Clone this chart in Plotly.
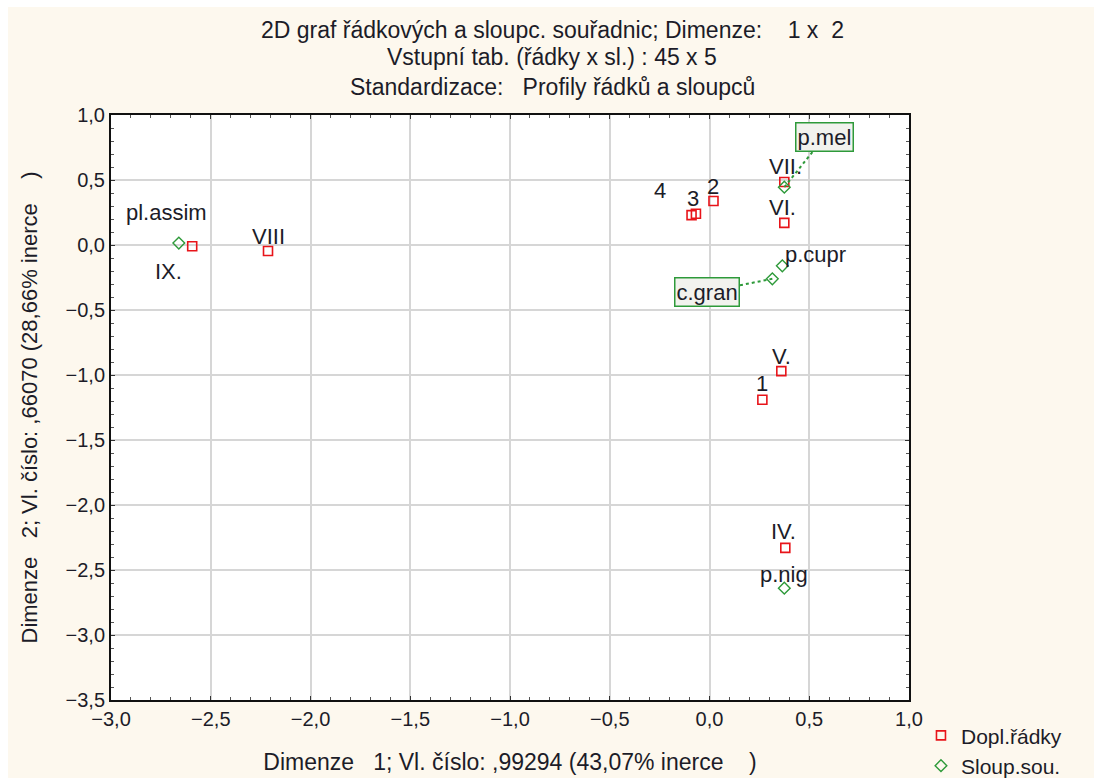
import plotly.graph_objects as go

# ---- data ----
row_labels = ["IX.", "VIII", "4", "3", "2", "VII.", "VI.", "V.", "1", "IV."]
row_x = [-2.593, -2.213, -0.090, -0.068, 0.020, 0.375, 0.375, 0.360, 0.265, 0.380]
row_y = [-0.010, -0.046, 0.230, 0.240, 0.338, 0.485, 0.170, -0.970, -1.190, -2.330]

col_labels = ["pl.assim", "p.mel", "p.cupr", "c.gran", "p.nig"]
col_x = [-2.660, 0.375, 0.365, 0.315, 0.375]
col_y = [0.015, 0.445, -0.160, -0.260, -2.640]

x_ticks = [-3.0, -2.5, -2.0, -1.5, -1.0, -0.5, 0.0, 0.5, 1.0]
y_ticks = [1.0, 0.5, 0.0, -0.5, -1.0, -1.5, -2.0, -2.5, -3.0, -3.5]

title_lines = [
    "2D graf řádkových a sloupc. souřadnic; Dimenze:    1 x  2",
    "Vstupní tab. (řádky x sl.) : 45 x 5",
    "Standardizace:   Profily řádků a sloupců",
]
x_title = "Dimenze   1; Vl. číslo: ,99294 (43,07% inerce    )"
y_title = "Dimenze   2; Vl. číslo: ,66070 (28,66% inerce    )"

# ---- style ----
FONT = "Liberation Sans, Arial, sans-serif"
TXT = "#1c1c28"
RED = "#e8141a"
GREEN = "#2e9a3a"
# label offsets in px (xshift, yshift)
row_off = {"IX.": (-24, -25), "VIII": (0, 14), "4": (-32, 25), "3": (-3, 15), "2": (0, 15),
           "VII.": (1, 15), "VI.": (-2, 15), "V.": (0, 15), "1": (0, 16), "IV.": (-2, 16)}
col_off = {"pl.assim": (-12, 31), "p.cupr": (33, 11), "p.nig": (0, 14)}
boxed = {"p.mel": (40, 50), "c.gran": (-65, -13)}

W, H = 1094, 778
L, R, T, B = 111, 185, 115, 78
xr = [-3.0, 1.0]
yr = [-3.5, 1.0]
PW, PH = W - L - R, H - T - B
px_per_x = PW / (xr[1] - xr[0])
px_per_y = PH / (yr[1] - yr[0])

fig = go.Figure()
fig.add_trace(go.Scatter(
    x=row_x, y=row_y, mode="markers", name="Dopl.řádky",
    marker=dict(symbol="square-open", size=9, color=RED, line=dict(width=1.6, color=RED)),
    hoverinfo="skip"))
fig.add_trace(go.Scatter(
    x=col_x, y=col_y, mode="markers", name="Sloup.sou.",
    marker=dict(symbol="diamond-open", size=9, color=GREEN, line=dict(width=1.4, color=GREEN)),
    hoverinfo="skip"))

ann = []
lab_font = dict(family=FONT, size=22, color=TXT)
for lab, x, y in zip(row_labels, row_x, row_y):
    dx, dy = row_off[lab]
    ann.append(dict(x=x, y=y, xref="x", yref="y", text=lab, showarrow=False,
                    xshift=dx, yshift=dy, font=lab_font))
shapes = []
for lab, x, y in zip(col_labels, col_x, col_y):
    if lab in boxed:
        dx, dy = boxed[lab]
        bx = x + dx / px_per_x
        by = y + dy / px_per_y
        shapes.append(dict(type="line", xref="x", yref="y", x0=x, y0=y, x1=bx, y1=by,
                           line=dict(color=GREEN, width=2, dash="dot"), layer="above"))
        ann.append(dict(x=bx, y=by, xref="x", yref="y", text=lab, showarrow=False,
                        font=lab_font, bgcolor="#f2f2ee", bordercolor=GREEN,
                        borderwidth=1.5, borderpad=1))
    else:
        dx, dy = col_off[lab]
        ann.append(dict(x=x, y=y, xref="x", yref="y", text=lab, showarrow=False,
                        xshift=dx, yshift=dy, font=lab_font))

# title lines (pixel centres converted to paper coordinates)
title_px = [(552, 30), (552, 57), (552, 87)]
for line, (xpx, ypx) in zip(title_lines, title_px):
    ann.append(dict(x=(xpx - L) / PW, y=(H - B - ypx) / PH, xref="paper", yref="paper",
                    text=line, showarrow=False, xanchor="center", yanchor="middle",
                    font=dict(family=FONT, size=23, color=TXT)))

# white top/left strip
shapes.append(dict(type="rect", xref="paper", yref="paper",
                   x0=-L / PW - 0.01, x1=(W - L) / PW + 0.01,
                   y0=(H - B - 7) / PH, y1=(H - B) / PH + 0.01,
                   fillcolor="white", line=dict(width=0), layer="below"))
shapes.append(dict(type="rect", xref="paper", yref="paper",
                   x0=-L / PW - 0.01, x1=(8 - L) / PW,
                   y0=-B / PH - 0.01, y1=(H - B) / PH + 0.01,
                   fillcolor="white", line=dict(width=0), layer="below"))

axis_common = dict(
    showgrid=True, gridcolor="#d6d6d6", gridwidth=2,
    zeroline=False, showline=True, linecolor="#111111", linewidth=2, mirror="ticks",
    ticks="inside", ticklen=4, tickcolor="#333333", tickwidth=1,
    tickformat=".1f", tickfont=dict(family=FONT, size=20, color=TXT),
    minor=dict(ticks="inside", ticklen=3, tickcolor="#555555", dtick=0.1, showgrid=False),
)

fig.update_layout(
    width=W, height=H,
    margin=dict(l=L, r=R, t=T, b=B, autoexpand=False),
    paper_bgcolor="#fdf8ee", plot_bgcolor="white",
    separators=",.",
    font=dict(family=FONT, size=20, color=TXT),
    xaxis=dict(range=xr, tickvals=x_ticks, title=dict(text=x_title, standoff=25,
               font=dict(family=FONT, size=23, color=TXT)), **axis_common),
    yaxis=dict(range=yr, tickvals=y_ticks, title=dict(text=y_title, standoff=22,
               font=dict(family=FONT, size=22, color=TXT)), **axis_common),
    showlegend=True,
    legend=dict(x=1.015, y=-0.026, xanchor="left", yanchor="top",
                bgcolor="rgba(0,0,0,0)", font=dict(family=FONT, size=21, color=TXT),
                itemwidth=30, tracegroupgap=0),
    annotations=ann, shapes=shapes,
)

fig.write_html("out.html")
